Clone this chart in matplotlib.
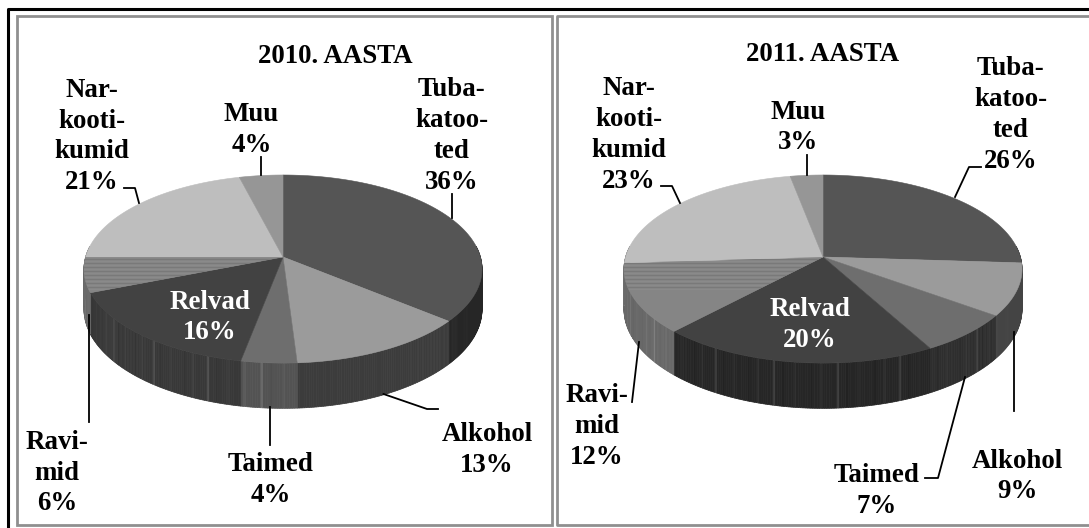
import numpy as np
import matplotlib
matplotlib.use('Agg')
import matplotlib.pyplot as plt
from matplotlib.patches import Polygon, Rectangle

plt.rcParams['font.family'] = ['Liberation Serif', 'DejaVu Serif']

categories = ['Tubakatooted', 'Alkohol', 'Taimed', 'Relvad', 'Ravimid', 'Narkootikumid', 'Muu']
values_2010 = [36, 13, 4, 16, 6, 21, 4]
values_2011 = [26, 9, 7, 20, 12, 23, 3]
top_colors = ['#555555', '#9b9b9b', '#6e6e6e', '#424242', '#858585', '#bebebe', '#969696']
wall_2010 = ['#262626', '#3c3c3c', '#535353', '#383838', '#6a6a6a', '#6a6a6a', '#6a6a6a']
wall_2011 = ['#333333', '#444444', '#2e2e2e', '#262626', '#686868', '#6a6a6a', '#6a6a6a']
stripes = [0, 0, 0, 0, 0, 5, 0, 0, 0, 0, -4, 0, 0, 0, 22, 0, 0, 0, 0, 0, 0, 8, 0, 0, 0, -4, 0]
striped = ['Taimed', 'Relvad', 'Ravimid']

labels_2010 = ['Tuba-\nkatoo-\nted\n36%', 'Alkohol\n13%', 'Taimed\n4%', 'Relvad\n16%',
               'Ravi-\nmid\n6%', 'Nar-\nkooti-\nkumid\n21%', 'Muu\n4%']
labels_2011 = ['Tuba-\nkatoo-\nted\n26%', 'Alkohol\n9%', 'Taimed\n7%', 'Relvad\n20%',
               'Ravi-\nmid\n12%', 'Nar-\nkooti-\nkumid\n23%', 'Muu\n3%']

fig = plt.figure(figsize=(10.89, 5.28), dpi=100)
ax = fig.add_axes([0, 0, 1, 1])
ax.set_xlim(0, 1089)
ax.set_ylim(528, 0)
ax.axis('off')

K = 0.128
A = 197.4
B = 92.5
DEPTH = 39.5


def project(cx, cy, ang):
    # circle seen in perspective, the front is nearer
    w = 1 + K * np.sin(ang)
    return cx + A * np.cos(ang) / w, cy - B * np.sin(ang) / w


def shade(color, delta):
    v = int(color[1:3], 16) + delta
    v = max(0, min(255, v))
    return '#%02x%02x%02x' % (v, v, v)


def draw_pie(cx, cy, values, walls):
    edges = np.radians(90 - 3.6 * np.cumsum([0] + values))
    # walls
    for i in range(len(values)):
        a = np.linspace(edges[i], edges[i + 1], max(int(values[i] * 6), 4))
        for j in range(len(a) - 1):
            if np.sin((a[j] + a[j + 1]) / 2) > 0.12:
                continue
            x1, y1 = project(cx, cy, a[j])
            x2, y2 = project(cx, cy, a[j + 1])
            d1 = DEPTH / (1 + K * np.sin(a[j]))
            d2 = DEPTH / (1 + K * np.sin(a[j + 1]))
            delta = stripes[j % len(stripes)] if categories[i] in striped else 0
            col = shade(walls[i], delta)
            ax.add_patch(Polygon([(x1, y1), (x2, y2), (x2, y2 + d2), (x1, y1 + d1)],
                                 facecolor=col, edgecolor=col, linewidth=0.5, zorder=2))
    # top face
    for i in range(len(values)):
        a = np.linspace(edges[i], edges[i + 1], 80)
        x, y = project(cx, cy, a)
        pts = [(cx, cy)] + list(zip(x, y))
        top = Polygon(pts, facecolor=top_colors[i], edgecolor=top_colors[i], linewidth=0.4, zorder=3)
        ax.add_patch(top)
        if categories[i] == 'Ravimid':
            # banding on this slice
            for k, yy in enumerate(np.arange(cy, cy + 34, 2.0)):
                ln, = ax.plot([cx - 210, cx], [yy, yy], color=shade(top_colors[i], -12 if k % 2 else 6),
                              lw=0.7, zorder=3.1)
                ln.set_clip_path(top)


def leader(xs, ys):
    ax.plot(xs, ys, color='black', lw=1.3, zorder=5, solid_joinstyle='round')


def label(x, y, text, color='black'):
    ax.text(x, y + 2.5, text, ha='center', va='center', color=color, fontsize=19.4,
            fontweight='bold', linespacing=1.3, zorder=6)


# frames
ax.plot([7.5, 7.5, 1089], [528, 8.5, 8.5], color='black', lw=2.2, zorder=1)
ax.add_patch(Rectangle((16.5, 15.5), 535, 509.5, fill=False, ec='#8f8f8f', lw=2, zorder=1))
ax.plot([1089, 556.5, 556.5, 1089], [15.5, 15.5, 525, 525], color='#8f8f8f', lw=2, zorder=1)

draw_pie(283, 257, values_2010, wall_2010)
draw_pie(823, 257, values_2011, wall_2011)

# left pie
label(335, 54, '2010. AASTA')
label(452, 133.5, labels_2010[0])
label(487, 447.5, labels_2010[1])
label(270.5, 477.5, labels_2010[2])
label(210, 315, labels_2010[3], color='white')
label(57, 470.5, labels_2010[4])
label(92, 134, labels_2010[5])
label(251.5, 127.5, labels_2010[6])
leader([452, 452], [194, 218])
leader([383.5, 427, 438], [394, 409, 409])
leader([270, 270], [407, 445])
leader([88.6, 88.6], [315, 422])
leader([124, 135, 139], [188, 188, 203])
leader([261, 261], [157, 175])

# right pie
label(823, 52, '2011. AASTA')
label(1010.5, 112.5, labels_2011[0])
label(1017, 474, labels_2011[1])
label(877, 488.5, labels_2011[2])
label(809.5, 322.5, labels_2011[3], color='white')
label(597, 424, labels_2011[4])
label(629, 132.5, labels_2011[5])
label(798, 125, labels_2011[6])
leader([981, 969, 955], [167, 167, 197])
leader([1014, 1014], [332, 411])
leader([965, 938, 925], [377, 478, 478])
leader([639, 632], [342, 402])
leader([661, 672, 680], [186, 186, 203])
leader([807, 807], [155, 175])

fig.savefig('out.png', dpi=100)
